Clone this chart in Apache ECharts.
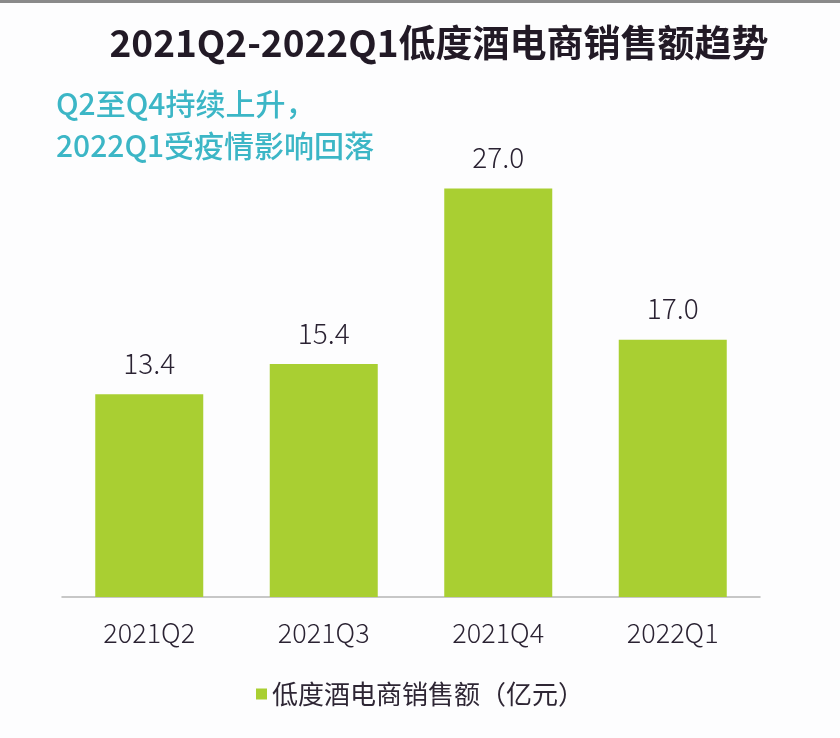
<!DOCTYPE html>
<html>
<head>
<meta charset="utf-8">
<script src="https://cdn.jsdelivr.net/npm/echarts@6/dist/echarts.min.js"></script>
<style>
    html, body { margin: 0; padding: 0; background: #fdfdfe; }
    #chart { width: 840px; height: 738px; border-top: 3px solid #8a8a8a; box-sizing: border-box; }
</style>
</head>
<body>
<div id="chart"></div>
<script>
// 数据
const quarters = ['2021Q2', '2021Q3', '2021Q4', '2022Q1']
const salesValues = [13.4, 15.4, 27.0, 17.0]
const seriesName = '低度酒电商销售额（亿元）'

const chart = echarts.init(document.getElementById('chart'))

const option = {
    backgroundColor: '#fdfdfe',
    title: {
        text: '2021Q2-2022Q1低度酒电商销售额趋势',
        left: 434,
        textAlign: 'center',
        top: 16,
        textStyle: {
            fontFamily: 'Noto Sans CJK SC',
            fontSize: 37,
            fontWeight: 'bold',
            color: '#221a26'
        }
    },
    // 左上角注释
    graphic: [
        {
            type: 'text',
            left: 56,
            top: 80,
            style: {
                text: 'Q2至Q4持续上升，\n2022Q1受疫情影响回落',
                font: '500 30px "Noto Sans CJK SC"',
                fill: '#3cb6c6',
                lineHeight: 42
            }
        }
    ],
    legend: {
        bottom: 26,
        left: 'center',
        itemWidth: 11,
        itemHeight: 11,
        itemGap: 6,
        icon: 'rect',
        textStyle: {
            fontFamily: 'Noto Sans CJK SC',
            fontSize: 26,
            color: '#2e2634'
        },
        data: [seriesName]
    },
    grid: {
        left: 62,
        right: 80,
        top: 140,
        bottom: 141
    },
    xAxis: {
        type: 'category',
        data: quarters,
        axisLine: { lineStyle: { color: '#b5b5b5', width: 1.5 } },
        axisTick: { show: false },
        axisLabel: {
            margin: 22,
            fontFamily: 'Noto Sans CJK SC',
            fontSize: 27,
            fontWeight: 300,
            color: '#2a2232'
        }
    },
    yAxis: {
        type: 'value',
        min: 0,
        max: 30,
        show: false,
        splitLine: { show: false }
    },
    series: [
        {
            name: seriesName,
            type: 'bar',
            data: salesValues,
            barWidth: 108,
            itemStyle: { color: '#a9cf32' },
            label: {
                show: true,
                position: 'top',
                distance: 17,
                formatter: (p) => p.value.toFixed(1),
                fontFamily: 'Noto Sans CJK SC',
                fontSize: 28,
                fontWeight: 300,
                color: '#2a2232'
            }
        }
    ]
}

chart.setOption(option)
</script>
</body>
</html>
